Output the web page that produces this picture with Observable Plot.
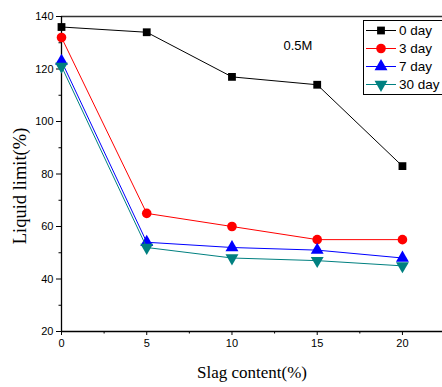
<!DOCTYPE html>
<html><head><meta charset="utf-8">
<script src="https://cdn.jsdelivr.net/npm/d3@7"></script>
<script src="https://cdn.jsdelivr.net/npm/@observablehq/plot@0.6"></script>
<style>
body{margin:0;background:#fff;overflow:hidden}
#chart{position:relative;width:442px;height:387px;overflow:hidden}
</style></head><body>
<div id="chart"></div>
<script>
const slag = [0, 5, 10, 15, 20];
const day0 = [136, 134, 117, 114, 83];
const day3 = [132, 65, 60, 55, 55];
const day7 = [123, 54, 52, 51, 48];
const day30 = [121, 52, 48, 47, 45];
const seriesNames = ["0 day", "3 day", "7 day", "30 day"];
const seriesColors = ["#000000", "#ff0000", "#0000ff", "#008080"];
const yTicks = [20, 40, 60, 80, 100, 120, 140];
const xTicks = [0, 5, 10, 15, 20];
const annotation = "0.5M";

const triDown = {draw(context, size) {
  const y = -Math.sqrt(size / (Math.sqrt(3) * 3)), s = Math.sqrt(3);
  context.moveTo(0, -y * 2); context.lineTo(-s * y, y); context.lineTo(s * y, y); context.closePath();
}};
const symbols = ["square", "circle", "triangle", triDown];
const allSeries = [day0, day3, day7, day30];
const rows = [];
allSeries.forEach((vals, i) => vals.forEach((v, j) => rows.push({x: slag[j], y: v, s: i})));

const marks = [];
allSeries.forEach((vals, i) => {
  const d = rows.filter(r => r.s === i);
  marks.push(Plot.line(d, {x: "x", y: "y", stroke: seriesColors[i], strokeWidth: 1}));
  marks.push(Plot.dot(d, {x: "x", y: "y", symbol: () => symbols[i], fill: seriesColors[i], stroke: "none", r: i === 0 ? 4.4 : 4.8}));
});

const xMinor = d3.range(0, 22.6, 2.5).filter(v => !xTicks.includes(v));
const yMinor = d3.range(30, 140, 20);

const plot = Plot.plot({
  width: 442, height: 387,
  marginTop: 16, marginBottom: 56, marginLeft: 61, marginRight: 0,
  style: {fontFamily: "Liberation Sans, Arial, sans-serif", fontSize: "11px", color: "#000", background: "#fff"},
  x: {domain: [0, 22.35]},
  y: {domain: [20, 140]},
  symbol: {type: "identity"},
  marks: [
    Plot.axisX({ticks: xTicks, tickSize: 4, tickPadding: 4, label: null, fontSize: 11}),
    Plot.axisX({ticks: xMinor, tickSize: 2.5, tickFormat: () => "", label: null}),
    Plot.axisY({ticks: yTicks, tickSize: 5, tickPadding: 3, label: null, fontSize: 11}),
    Plot.axisY({ticks: yMinor, tickSize: 2.5, tickFormat: () => "", label: null}),
    Plot.ruleY([20], {strokeWidth: 1.3}),
    Plot.ruleY([140], {stroke: "#333", strokeWidth: 1.3}),
    Plot.ruleX([0], {strokeWidth: 1.3}),
    ...marks,
    Plot.text([annotation], {frameAnchor: "top-left", dx: 222, dy: 29, text: d => d, fontSize: 13, textAnchor: "start", lineAnchor: "middle"}),
    Plot.text(["Slag content(%)"], {frameAnchor: "bottom", dy: 41, text: d => d, lineAnchor: "middle", textAnchor: "middle", fontFamily: "Liberation Serif, Times New Roman, serif", fontSize: 17}),
    Plot.text(["Liquid limit(%)"], {frameAnchor: "left", dx: -41, dy: 12, rotate: -90, text: d => d, textAnchor: "middle", lineAnchor: "middle", fontFamily: "Liberation Serif, Times New Roman, serif", fontSize: 18.5})
  ]
});
document.getElementById("chart").appendChild(plot);

// legend
const svg = d3.select(plot);
const lg = svg.append("g").attr("font-family", "Liberation Sans, Arial, sans-serif").attr("font-size", 13.5).attr("text-anchor", "start");
lg.append("rect").attr("x", 363.5).attr("y", 20.5).attr("width", 90).attr("height", 74).attr("fill", "#fff").attr("stroke", "#000");
seriesNames.forEach((name, i) => {
  const cy = 30.5 + i * 18;
  lg.append("line").attr("x1", 366).attr("x2", 396).attr("y1", cy).attr("y2", cy).attr("stroke", seriesColors[i]);
  const sym = typeof symbols[i] === "string" ? {square: d3.symbolSquare, circle: d3.symbolCircle, triangle: d3.symbolTriangle}[symbols[i]] : symbols[i];
  const r = i === 0 ? 4.4 : 4.8;
  lg.append("path").attr("d", d3.symbol(sym, Math.PI * r * r)()).attr("transform", `translate(381,${cy})`).attr("fill", seriesColors[i]);
  lg.append("text").attr("x", 399).attr("y", cy).attr("dy", "0.35em").attr("fill", "#000").text(name);
});
</script>
</body></html>
